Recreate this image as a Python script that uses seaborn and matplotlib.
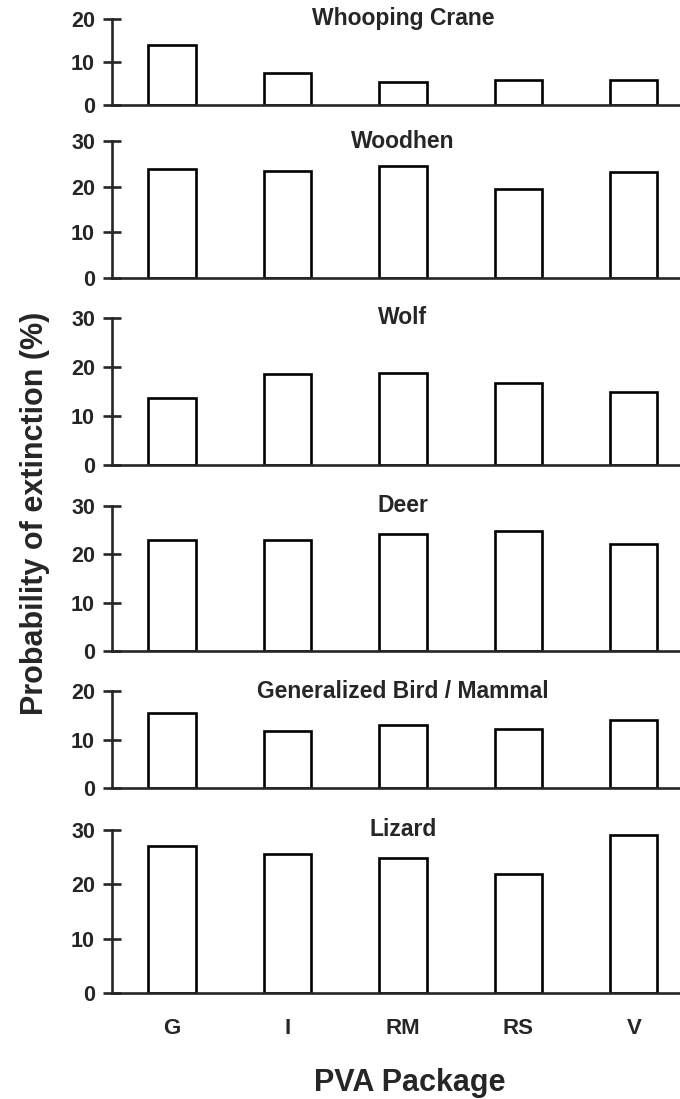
#!/usr/bin/env python3

# import packages
import seaborn as sns
import matplotlib.pyplot as plt

# data (probability of extinction, %)
packages = ['G', 'I', 'RM', 'RS', 'V']
species = ['Whooping Crane', 'Woodhen', 'Wolf', 'Deer',
           'Generalized Bird / Mammal', 'Lizard']
whooping_crane = [14.0, 7.4, 5.4, 5.8, 5.8]
woodhen = [23.9, 23.4, 24.5, 19.5, 23.3]
wolf = [13.6, 18.5, 18.7, 16.7, 14.9]
deer = [23.0, 23.0, 24.3, 24.9, 22.1]
gen_bird_mammal = [15.4, 11.8, 12.9, 12.1, 14.0]
lizard = [27.1, 25.5, 24.8, 21.9, 29.1]
values = [whooping_crane, woodhen, wolf, deer, gen_bird_mammal, lizard]
y_max = [20, 30, 30, 30, 20, 30]

# panel placement in pixels (top tick, zero line)
W, H = 680, 1099
panel_px = [(19, 105), (141, 278), (318, 465), (506, 651), (691, 788), (830, 993)]
left_px = 112

sns.set_style('ticks')
plt.rcParams['font.family'] = ['Liberation Sans', 'DejaVu Sans']
plt.rcParams['font.weight'] = 'bold'

fig = plt.figure(figsize=(W / 100, H / 100), dpi=100)

for i, (name, vals, ym, (top, zero)) in enumerate(zip(species, values, y_max, panel_px)):
    ax = fig.add_axes([left_px / W, 1 - zero / H, 1 - left_px / W, (zero - top) / H])
    sns.barplot(x=packages, y=vals, ax=ax, color='white', saturation=1,
                edgecolor='black', linewidth=1.9, width=0.41)
    ax.set_xlim(-0.52, 4.40)
    ax.set_ylim(0, ym)
    ax.set_yticks(range(0, ym + 1, 10))
    ax.set_ylabel('')
    ax.set_xlabel('')
    for s in ['top', 'right']:
        ax.spines[s].set_visible(False)
    for s in ['left', 'bottom']:
        ax.spines[s].set_linewidth(1.9)
    ax.tick_params(axis='y', direction='inout', length=13.5, width=1.9,
                   pad=5.5, labelsize=15.5)
    for lab in ax.get_yticklabels():
        lab.set_fontweight('bold')
    if i < len(species) - 1:
        ax.tick_params(axis='x', length=0, labelbottom=False)
    else:
        ax.tick_params(axis='x', length=0, pad=18, labelsize=16)
        for lab in ax.get_xticklabels():
            lab.set_fontweight('bold')
    ax.text(2, ym, name, ha='center', va='center', fontsize=16.5,
            fontweight='bold', clip_on=False)

fig.text(35 / W, 1 - 513 / H, 'Probability of extinction (%)', rotation=90,
         ha='center', va='center', fontsize=22, fontweight='bold')
fig.text(410 / W, 1 - 1083 / H, 'PVA Package', ha='center', va='center',
         fontsize=22, fontweight='bold')

fig.savefig('out.png', dpi=100)
